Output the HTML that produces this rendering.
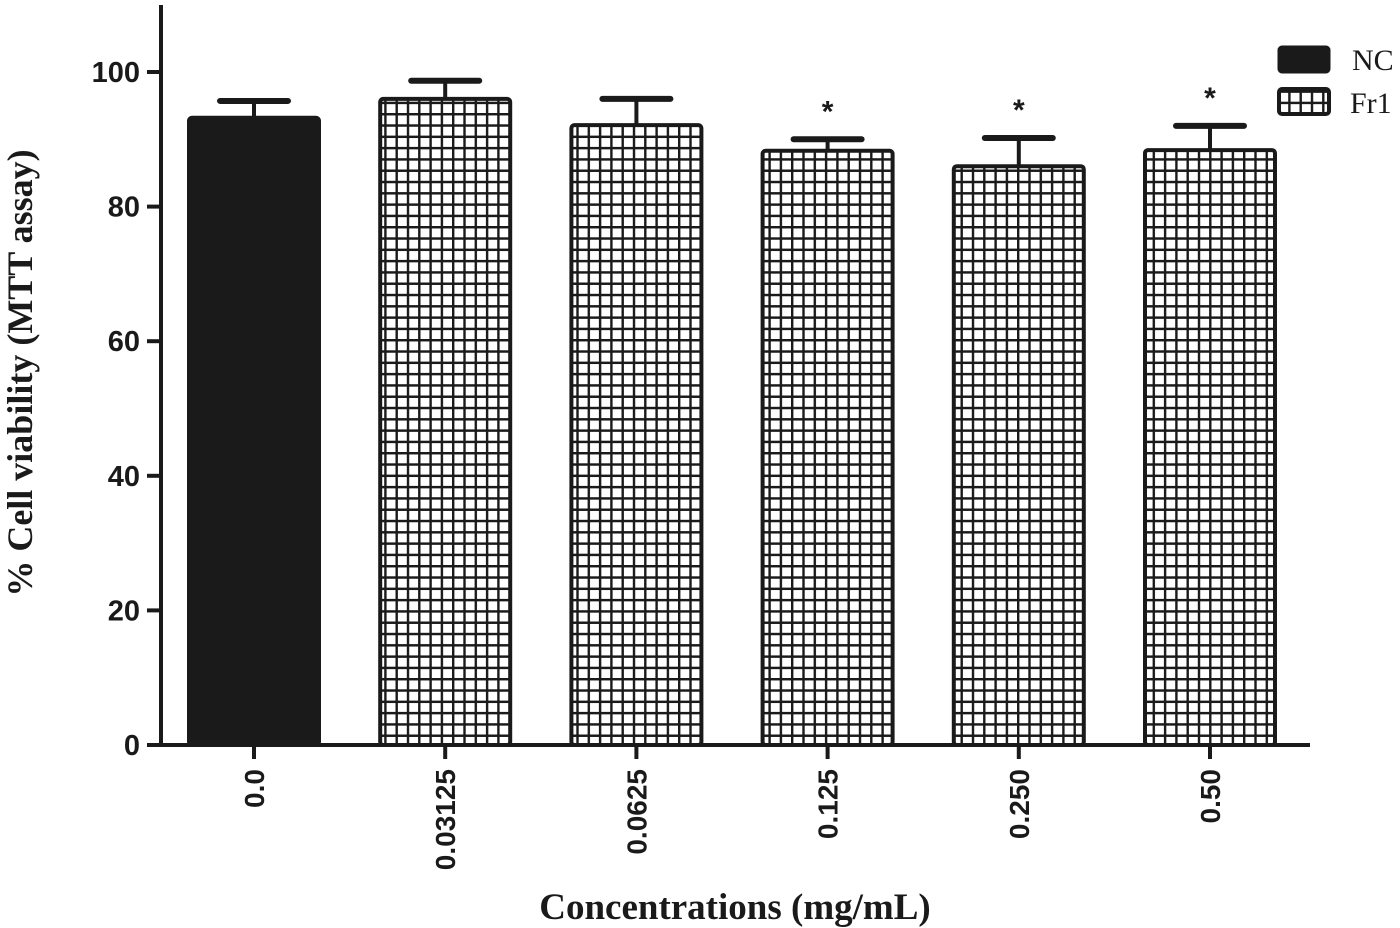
<!DOCTYPE html>
<html><head><meta charset="utf-8"><style>
html,body{margin:0;padding:0;background:#fff;}
svg{display:block;}
</style></head><body>
<svg id="chart" width="1400" height="928" viewBox="0 0 1400 928" xmlns="http://www.w3.org/2000/svg">
<defs>
<pattern id="grid" width="11.3" height="11.3" patternUnits="userSpaceOnUse" x="0" y="0">
<rect width="11.3" height="11.3" fill="#fff"/>
<path d="M0 1.2H11.3M1.2 0V11.3" stroke="#1a1a1a" stroke-width="2.4" fill="none"/>
</pattern>
</defs>
<g id="plot"></g>
<text transform="translate(32,373) rotate(-90)" text-anchor="middle" font-family="Liberation Serif, serif" font-weight="bold" font-size="36" fill="#1a1a1a">% Cell viability (MTT assay)</text>
<text x="735" y="919" text-anchor="middle" font-family="Liberation Serif, serif" font-weight="bold" font-size="37" fill="#1a1a1a">Concentrations (mg/mL)</text>
<g>
<rect x="1279" y="47" width="50" height="25" rx="3" fill="#1a1a1a" stroke="#1a1a1a" stroke-width="3"/>
<text x="1352" y="70" font-family="Liberation Serif, serif" font-size="30" fill="#1a1a1a">NC</text>
<rect x="1279" y="89" width="50" height="25" rx="3" fill="url(#grid)" stroke="#1a1a1a" stroke-width="4"/>
<text x="1350" y="113" font-family="Liberation Serif, serif" font-size="30" fill="#1a1a1a">Fr1</text>
</g>
</svg>
<script>
const categories = ["0.0","0.03125","0.0625","0.125","0.250","0.50"];
const means = [93.2, 96.0, 92.1, 88.3, 86.0, 88.4];
const errors = [2.5, 2.7, 3.9, 1.7, 4.2, 3.6];
const significant = [false, false, false, true, true, true];
const yTicks = [0, 20, 40, 60, 80, 100];

const NS = "http://www.w3.org/2000/svg";
const plot = document.getElementById('plot');
const y0 = 745, yPerUnit = 6.73, axisX = 161;
const firstCenter = 254, step = 191.2, barW = 130;
function yScale(v){ return y0 - v * yPerUnit; }
function xScale(i){ return firstCenter + i * step; }
function mk(tag, attrs){ const e = document.createElementNS(NS, tag); for (const k in attrs) e.setAttribute(k, attrs[k]); plot.appendChild(e); return e; }

categories.forEach((c, i) => {
  const cx = xScale(i), top = yScale(means[i]), errTop = yScale(means[i] + errors[i]);
  const eb = mk('line', {x1: cx, x2: cx, y1: top, y2: errTop, stroke: '#1a1a1a', 'stroke-width': 4});
  
  
  const cap = mk('line', {x1: cx - 34, x2: cx + 34, y1: errTop, y2: errTop, stroke: '#1a1a1a', 'stroke-width': 6, 'stroke-linecap': 'round'});
  
  
  const bar = mk('rect', {x: cx - barW/2, y: top, width: barW, height: y0 - top, rx: 3,
    fill: i === 0 ? '#1a1a1a' : 'url(#grid)', stroke: '#1a1a1a', 'stroke-width': 4});
  
  
  if (significant[i]) {
    const s = mk('text', {x: cx, y: errTop - 18, 'text-anchor': 'middle', 'font-family': 'Liberation Sans, sans-serif', 'font-weight': 'bold', 'font-size': 30, fill: '#1a1a1a'});
    s.textContent = '*';
    
    
  }
  const tk = mk('line', {x1: cx, x2: cx, y1: y0, y2: y0 + 14, stroke: '#1a1a1a', 'stroke-width': 4});
  
  
  const lb = mk('text', {transform: 'translate(' + (cx + 10) + ',' + (y0 + 24) + ') rotate(-90)', 'text-anchor': 'end', 'font-family': 'Liberation Sans, sans-serif', 'font-weight': 'bold', 'font-size': 28, fill: '#1a1a1a'});
  lb.textContent = c;
  
  
});

const ya = mk('line', {x1: axisX, x2: axisX, y1: 5, y2: y0 + 2, stroke: '#1a1a1a', 'stroke-width': 4});


const xa = mk('line', {x1: 147, x2: 1310, y1: y0, y2: y0, stroke: '#1a1a1a', 'stroke-width': 4});


yTicks.forEach(t => {
  const y = yScale(t);
  const tk = mk('line', {x1: 147, x2: axisX, y1: y, y2: y, stroke: '#1a1a1a', 'stroke-width': 4});
  
  
  const lb = mk('text', {x: 140, y: y + 10, 'text-anchor': 'end', 'font-family': 'Liberation Sans, sans-serif', 'font-weight': 'bold', 'font-size': 29, fill: '#1a1a1a'});
  lb.textContent = t;
  
  
});
</script>
</body></html>
